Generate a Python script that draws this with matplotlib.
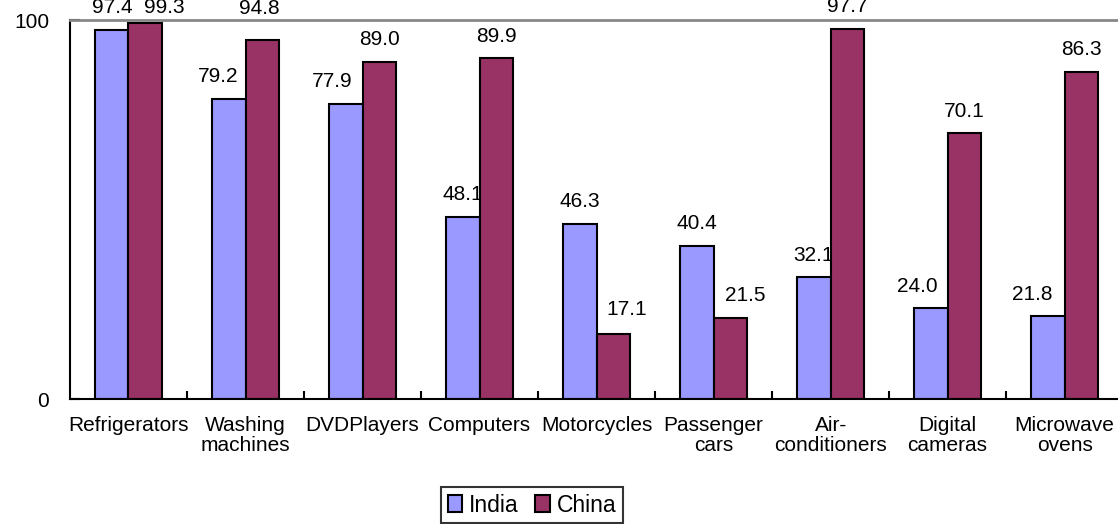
import matplotlib
matplotlib.use("Agg")
import matplotlib.pyplot as plt
import numpy as np

plt.rcParams['font.family'] = ['Liberation Sans', 'DejaVu Sans']

categories = ["Refrigerators", "Washing\nmachines", "DVDPlayers", "Computers",
              "Motorcycles", "Passenger\ncars", "Air-\nconditioners",
              "Digital\ncameras", "Microwave\novens"]
india = [97.4, 79.2, 77.9, 48.1, 46.3, 40.4, 32.1, 24.0, 21.8]
china = [99.3, 94.8, 89.0, 89.9, 17.1, 21.5, 97.7, 70.1, 86.3]

# nudges of the value labels (points) so they don't collide
india_dx = [0, -8, -10, 0, 0, 0, 0, -10, -11]
china_dx = [14, -2, 0, 0, 10, 11, 0, 0, 0]
india_dy = [9, 9, 9, 9, 9, 9, 9, 9, 9]
china_dy = [4, 16, 9, 9, 11, 9, 9, 9, 9]

fig = plt.figure(figsize=(11.18, 5.24), dpi=100)
# axes run a little past the right edge of the figure
ax = fig.add_axes([0.0626, 0.2385, 0.942, 0.7233])

x = np.arange(len(categories))
w = 0.285
b1 = ax.bar(x - w/2, india, w, color="#9999FF", edgecolor="black",
            linewidth=1.5, label="India", zorder=3)
b2 = ax.bar(x + w/2, china, w, color="#993366", edgecolor="black",
            linewidth=1.5, label="China", zorder=3)

# labels sit behind the bars
for bars, vals, dxs, dys in ((b1, india, india_dx, india_dy),
                             (b2, china, china_dx, china_dy)):
    for r, v, dx, dy in zip(bars, vals, dxs, dys):
        ax.annotate("%.1f" % v, (r.get_x() + r.get_width()/2, v),
                    xytext=(dx, dy), textcoords="offset points",
                    ha="center", va="bottom", fontsize=15,
                    clip_on=False, zorder=2)

ax.set_xlim(-0.5, len(categories) - 0.5)
ax.set_ylim(0, 100)

ax.set_xticks(x)
ax.set_xticklabels(categories, fontsize=15, linespacing=1.1)
ax.tick_params(axis="x", which="major", length=0, pad=12)
ax.set_xticks(np.arange(len(categories)) + 0.5, minor=True)
ax.tick_params(axis="x", which="minor", direction="in", length=6, width=1.5)

ax.set_yticks([0, 100])
ax.tick_params(axis="y", direction="in", length=7, width=1.5, pad=15,
               labelsize=15)

ax.spines["top"].set_color("#888888")
ax.spines["top"].set_linewidth(2)
ax.spines["right"].set_visible(False)
ax.spines["left"].set_linewidth(1.5)
ax.spines["bottom"].set_linewidth(1.5)
for s in ax.spines.values():
    s.set_zorder(4)

ax.legend(loc="center", bbox_to_anchor=(532/1118, 1 - 505/524),
          bbox_transform=fig.transFigure, ncol=2, frameon=True,
          fancybox=False, edgecolor="black", fontsize=16.5,
          handlelength=0.65, handleheight=0.7, handletextpad=0.3,
          columnspacing=0.7, borderpad=0.3, borderaxespad=0)
leg = ax.get_legend()
leg.get_frame().set_linewidth(1.5)
for h in leg.legend_handles:
    h.set_linewidth(1.5)

fig.savefig("out.png", dpi=100)
